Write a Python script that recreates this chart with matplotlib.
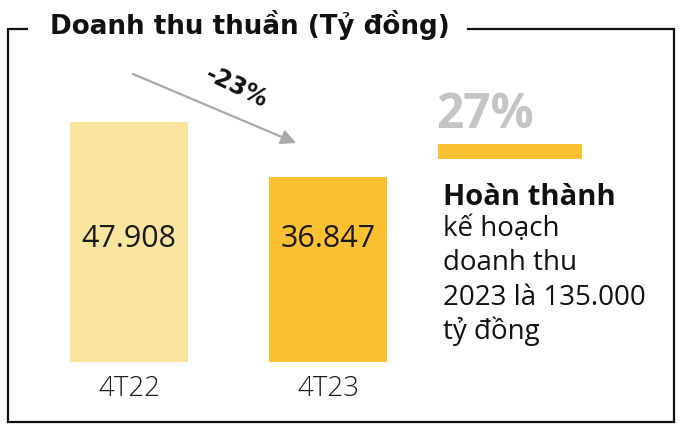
import matplotlib
matplotlib.use('Agg')
import matplotlib.pyplot as plt
from matplotlib.lines import Line2D
from matplotlib.patches import Rectangle

# ---- data ----
categories = ['4T22', '4T23']
values = [47908, 36847]
value_labels = ['47.908', '36.847']
bar_colors = ['#f9e59d', '#fbc133']
change_label = '-23%'
plan_pct = '27%'
title = 'Doanh thu thuần (Tỷ đồng)'
note_bold = 'Hoàn thành'
note_lines = ['kế hoạch', 'doanh thu', '2023 là 135.000', 'tỷ đồng']

FONT = ['Open Sans', 'DejaVu Sans']
plt.rcParams['font.family'] = FONT

W, H = 685, 439
fig = plt.figure(figsize=(W / 100, H / 100), dpi=100)
PT = 72 / 100  # points per pixel

# overlay axes in pixel coordinates (frame + annotations)
ov = fig.add_axes([0, 0, 1, 1])
ov.set_xlim(0, W)
ov.set_ylim(H, 0)
ov.axis('off')
ov.patch.set_alpha(0)

# ---- bar axes ----
base_px = 363
px_per_val = 240 / 47908
ymax = 50000
spacing = 199
center0 = 129
ax = fig.add_axes([(center0 - 0.5 * spacing) / W, (H - base_px) / H,
                   2 * spacing / W, ymax * px_per_val / H])
ax.patch.set_alpha(0)
xs = list(range(len(values)))
ax.bar(xs, values, width=118 / spacing, color=bar_colors, linewidth=0)
ax.set_xlim(-0.5, len(values) - 0.5)
ax.set_ylim(0, ymax)
ax.axis('off')
for i, (lab, cat) in enumerate(zip(value_labels, categories)):
    ax.annotate(lab, xy=(i, 0), xytext=(0, (base_px - 247) * PT),
                textcoords='offset points', ha='center', va='baseline',
                fontsize=22, color='#1a1a1a')
    ax.annotate(cat, xy=(i, 0), xytext=(0, -(396 - base_px) * PT),
                textcoords='offset points', ha='center', va='baseline',
                fontsize=20, color='#1a1a1a', fontweight='light')

# ---- frame ----
fx = [27, 8, 8, 674, 674, 468]
fy = [30, 30, 423, 423, 30, 30]
ov.add_line(Line2D(fx, fy, color='#111111', lw=1.6, solid_joinstyle='miter'))

# title
ov.text(50, 34, title, ha='left', va='baseline', fontsize=18.8, fontweight='bold',
        color='#111111', family=['DejaVu Sans'])

# arrow and change label
ov.annotate('', xy=(296, 144), xytext=(133, 75),
            arrowprops=dict(arrowstyle='-|>', color='#aaaaaa', lw=1.6,
                            mutation_scale=22, shrinkA=0, shrinkB=0))
ov.text(237, 87, change_label, ha='center', va='center', rotation=-26,
        fontsize=17, fontweight='bold', color='#111111', family=['DejaVu Sans'])

# right panel
ov.text(436, 128, plan_pct, ha='left', va='baseline', fontsize=34.5,
        fontweight='bold', color='#c4c4c4')
ov.add_patch(Rectangle((438, 145), 144, 15, color='#fbc133', lw=0))
ov.text(443, 205, note_bold, ha='left', va='baseline', fontsize=21,
        fontweight='bold', color='#111111')
for k, line in enumerate(note_lines):
    ov.text(443, 236 + k * 34.3, line, ha='left', va='baseline', fontsize=20,
            color='#111111')

fig.savefig('out.png', dpi=100)
